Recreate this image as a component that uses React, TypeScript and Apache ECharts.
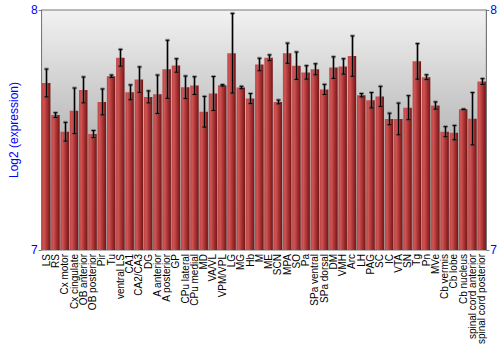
import React, { useEffect, useRef } from "react";
import * as echarts from "echarts";

const categories = ["LS","RS","Cx motor","Cx cingulate","OB anterior","OB posterior","Pir","Tu","ventral LS","CA1","CA2/CA3","DG","A anterior","A posterior","GP","CPu lateral","CPu medial","MD","VA/VL","VPM/VPL","LG","MG","Hb","M","ME","SCN","MPA","SO","Pa","SPa ventral","SPa dorsal","DM","VMH","Arc","LH","PAG","SC","IC","VTA","SN","Tg","Pn","MVe","Cb vermis","Cb lobe","Cb nucleus","spinal cord anterior","spinal cord posterior"];

const values = [7.696,7.562,7.493,7.580,7.667,7.483,7.617,7.724,7.801,7.657,7.710,7.638,7.649,7.753,7.769,7.678,7.685,7.576,7.652,7.686,7.820,7.677,7.631,7.773,7.801,7.617,7.820,7.768,7.740,7.753,7.669,7.760,7.765,7.808,7.645,7.624,7.640,7.546,7.546,7.593,7.786,7.720,7.602,7.493,7.489,7.586,7.547,7.702];

const errors = [0.058,0.010,0.039,0.095,0.054,0.015,0.054,0.005,0.035,0.031,0.053,0.025,0.080,0.121,0.028,0.047,0.037,0.064,0.071,0.003,0.166,0.005,0.021,0.026,0.012,0.008,0.042,0.057,0.028,0.023,0.021,0.045,0.032,0.084,0.007,0.032,0.042,0.024,0.066,0.050,0.074,0.010,0.015,0.021,0.030,0.001,0.109,0.012];

const yTicks = { min: 7, max: 8, interval: 1 };
const yName = "Log2 (expression)";

export default function App() {
  const ref = useRef<HTMLDivElement>(null);
  useEffect(() => {
    if (!ref.current) return;
    const chart = echarts.init(ref.current, null, { renderer: "svg" });
    const font = "Liberation Sans";
    const errData = values.map((v, i) => [i, v - errors[i], v + errors[i]]);
    const yAxisBase = {
      type: "value",
      min: yTicks.min,
      max: yTicks.max,
      interval: yTicks.interval,
      splitLine: { show: false },
      axisLine: { show: true, lineStyle: { color: "#777" } },
      axisTick: { show: true, length: 3, lineStyle: { color: "#777" } },
      axisLabel: { color: "#0000ff", fontSize: 12, fontFamily: font, margin: 4 },
    };
    chart.setOption({
      animation: false,
      grid: {
        left: 27,
        right: 13,
        top: 10,
        bottom: 100,
        show: true,
        borderColor: "#777",
        borderWidth: 1,
        backgroundColor: new echarts.graphic.LinearGradient(0, 0, 0, 1, [
          { offset: 0, color: "#f2f2f2" },
          { offset: 0.5, color: "#bcbcbc" },
          { offset: 1, color: "#9a9a9a" },
        ]),
      },
      xAxis: {
        type: "category",
        data: categories,
        axisLine: { show: false },
        axisTick: { show: false },
        axisLabel: {
          rotate: 90,
          interval: 0,
          fontSize: 10,
          fontFamily: font,
          color: "#000",
          margin: 4,
        },
      },
      yAxis: [
        {
          ...yAxisBase,
          position: "left",
          name: yName,
          nameLocation: "middle",
          nameGap: 15,
          nameTextStyle: { color: "#0000ff", fontSize: 12, fontFamily: font },
        },
        { ...yAxisBase, position: "right" },
      ],
      series: [
        {
          type: "bar",
          data: values,
          barWidth: "91%",
          itemStyle: {
            color: new echarts.graphic.LinearGradient(0, 0, 1, 0, [
              { offset: 0, color: "#bc4444" },
              { offset: 0.25, color: "#cf5454" },
              { offset: 0.6, color: "#aa3232" },
              { offset: 1, color: "#701616" },
            ]),
          },
        },
        {
          type: "custom",
          data: errData,
          z: 10,
          renderItem: (params: any, api: any) => {
            const x = api.value(0);
            const lo = api.coord([x, api.value(1)]);
            const hi = api.coord([x, api.value(2)]);
            const cx = Math.round(lo[0]) + 0.5;
            const cap = 2;
            const shadow = { stroke: "rgba(90,90,90,0.55)", lineWidth: 3 };
            const black = { stroke: "#000", lineWidth: 1 };
            return {
              type: "group",
              children: [
                { type: "line", shape: { x1: cx, y1: hi[1], x2: cx, y2: lo[1] }, style: shadow },
                { type: "line", shape: { x1: cx - cap, y1: hi[1], x2: cx + cap, y2: hi[1] }, style: shadow },
                { type: "line", shape: { x1: cx - cap, y1: lo[1], x2: cx + cap, y2: lo[1] }, style: shadow },
                { type: "line", shape: { x1: cx, y1: hi[1], x2: cx, y2: lo[1] }, style: black },
                { type: "line", shape: { x1: cx - cap, y1: hi[1], x2: cx + cap, y2: hi[1] }, style: black },
                { type: "line", shape: { x1: cx - cap, y1: lo[1], x2: cx + cap, y2: lo[1] }, style: black },
              ],
            };
          },
        },
      ],
    });
    return () => chart.dispose();
  }, []);
  return <div ref={ref} style={{ width: 500, height: 350, position: "absolute", left: 0, top: 0 }} />;
}
